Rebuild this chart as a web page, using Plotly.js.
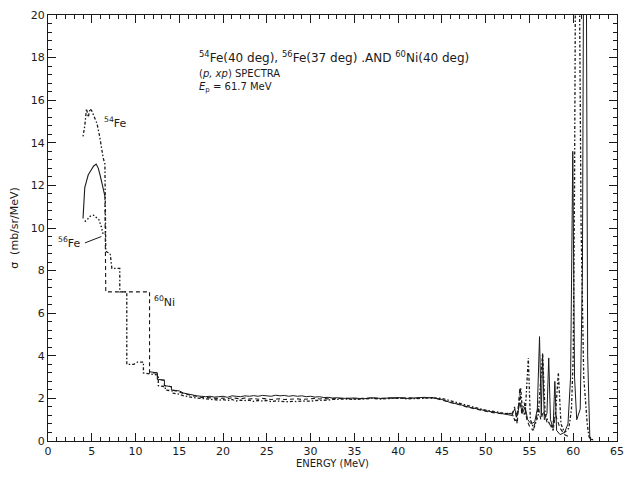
<!DOCTYPE html>
<html>
<head>
<meta charset="utf-8">
<script src="https://cdn.plot.ly/plotly-3.0.1.min.js"></script>
<style>html,body{margin:0;padding:0;background:#fff;}#chart{width:627px;height:481px;}</style>
</head>
<body>
<div id="chart"></div>
<script>
// ---- data ----
// shared energy grids for the continuum
const flatE = [15,15.5,16,16.5,17,17.5,18,18.5,19,19.5,20,20.5,21,21.5,22,22.5,23,23.5,24,24.5,25,25.5,26,26.5,27,27.5,28,28.5,29,29.5,30,30.5,31,31.5,32,32.5,33];
const tailE = [34,35,36,37,38,39,40,41,42,43,44,45,46,47,48,49,50,51,52];

// 54Fe (40 deg) - dotted
const fe54PeakE = [4.0,4.2,4.4,4.6,4.8,5.0,5.3,5.6,5.9,6.1,6.3,6.5];
const fe54PeakV = [14.3,14.8,15.6,15.2,15.6,15.5,15.2,14.9,14.3,13.7,13.3,13.0];
const fe54StepE = [6.6,7.1,7.3,8.2,8.2,9.0,9.0,9.8,10.2,10.9,10.9,11.6,12.6,12.6,13.4,13.4,14.2,14.2];
const fe54StepV = [8.9,8.8,8.1,8.1,7.0,7.0,3.6,3.6,3.7,3.7,3.2,3.15,3.1,2.6,2.55,2.4,2.35,2.25];
const fe54FlatV = [2.2,2.12,2.1,2.05,2.02,2.0,1.97,1.95,1.93,1.92,1.94,1.9,1.95,1.88,1.92,1.9,1.92,1.86,1.9,1.88,1.9,1.85,1.88,1.86,1.87,1.84,1.86,1.85,1.88,1.86,1.87,1.9,1.9,1.93,1.92,1.95,1.96];
const fe54TailV = [1.97,1.95,1.98,2.0,1.97,2.0,2.02,1.98,2.0,2.0,2.02,2.0,1.88,1.78,1.65,1.55,1.45,1.38,1.3];
const fe54HighE = [52.5,53.0,53.4,53.7,54.0,54.2,54.5,54.87,55.1,55.5,56.0,56.5,56.8,57.3,57.7,58.0,58.3,58.6,59.0,59.5,59.8,60.0,60.15,60.3,60.5,60.7,60.9,61.2,61.6,61.8,62.2];
const fe54HighV = [1.28,1.3,0.9,1.5,2.5,1.4,1.2,3.9,1.0,0.6,1.2,4.1,1.2,0.8,0.5,1.4,3.2,0.8,0.4,0.6,1.5,4.0,12,26,30,22,10,3.0,0.8,0.2,0.05];

// 56Fe (37 deg) - low-energy dotted arc, then solid
const fe56LowE = [4.2,4.5,4.8,5.2,5.5,5.8,6.1,6.3];
const fe56LowV = [10.3,10.4,10.55,10.6,10.5,10.4,10.05,9.7];
const fe56StepE = [11.6,12.5,12.5,13.3,13.3,14.1,14.1];
const fe56StepV = [3.25,3.2,2.9,2.85,2.6,2.55,2.4];
const fe56FlatV = [2.35,2.25,2.2,2.15,2.12,2.1,2.08,2.1,2.06,2.08,2.1,2.05,2.12,2.1,2.08,2.12,2.1,2.13,2.1,2.14,2.12,2.1,2.15,2.12,2.14,2.1,2.13,2.1,2.12,2.08,2.1,2.06,2.08,2.04,2.05,2.02,2.03];
const fe56TailV = [2.0,2.02,1.98,2.03,2.0,2.02,2.04,2.0,2.03,2.05,2.02,1.95,1.8,1.72,1.6,1.5,1.42,1.35,1.28];
const fe56HighE = [52.5,53.0,53.3,53.6,53.9,54.2,54.5,54.8,55.2,55.6,55.9,56.15,56.35,56.5,56.7,57.0,57.2,57.4,57.7,57.9,58.1,58.5,59.0,59.4,59.7,59.95,60.15,60.4,60.8,61.05,61.25,61.45,61.65,61.9,62.3];
const fe56HighV = [1.25,1.2,1.5,1.2,1.8,1.3,1.6,1.0,0.8,0.9,1.5,4.9,1.2,4.1,1.0,1.3,3.9,1.0,0.6,2.8,0.5,0.3,0.4,0.8,3.0,13.6,3.0,1.0,1.5,8,30,28,4,0.1,0.05];

// 60Ni (40 deg) - solid low-energy peak, then dashed
const ni60LowE = [4.0,4.2,4.4,4.6,4.9,5.2,5.5,5.75,6.0,6.2,6.5];
const ni60LowV = [10.45,11.9,12.2,12.5,12.7,12.9,13.0,12.8,12.4,12.0,11.5];
const ni60StepE = [6.5,6.6,11.6,11.6,12.5,12.5,13.3,13.3,14.1,14.1];
const ni60StepV = [11.5,7.0,7.0,3.2,3.2,2.9,2.85,2.6,2.55,2.4];
const ni60FlatV = [2.3,2.22,2.18,2.12,2.1,2.05,2.04,2.02,2.0,2.0,2.02,1.98,2.03,2.0,1.98,2.02,1.97,2.0,1.96,2.0,1.98,1.95,1.97,1.98,1.95,1.97,1.96,1.98,1.95,1.97,1.98,2.0,1.97,2.0,1.98,2.0,1.99];
const ni60TailV = [2.0,1.98,2.0,2.02,1.99,2.02,2.0,2.03,2.01,2.02,2.04,1.92,1.82,1.7,1.58,1.48,1.4,1.32,1.27];
const ni60HighE = [52.5,53.0,53.3,53.6,53.9,54.1,54.4,54.7,55.0,55.4,55.8,56.0,56.3,56.6,57.0,57.5,58.0,58.5,59.0,59.5];
const ni60HighV = [1.3,1.25,1.6,0.8,2.5,1.3,1.8,1.0,0.7,0.5,1.1,1.6,1.0,1.4,0.9,0.7,1.2,0.6,0.3,0.2];

// axis tick labels
const xTicks = [0,5,10,15,20,25,30,35,40,45,50,55,60,65];
const yTicks = [0,2,4,6,8,10,12,14,16,18,20];

// ---- build traces ----
const ink = '#1a1a1a';
function tr(x, y, dash, w) {
  return {x: x, y: y, type: 'scatter', mode: 'lines', hoverinfo: 'skip',
          line: {color: ink, width: w || 1.1, dash: dash}, showlegend: false};
}
const traces = [
  tr([].concat(fe54PeakE, fe54StepE, flatE, tailE, fe54HighE),
     [].concat(fe54PeakV, fe54StepV, fe54FlatV, fe54TailV, fe54HighV), '1.5px,2px,3px,2px', 1.3),
  tr(fe56LowE, fe56LowV, '1.5px,2px', 1.4),
  tr(ni60LowE, ni60LowV, 'solid', 1.1),
  tr([].concat(ni60StepE, flatE, tailE, ni60HighE),
     [].concat(ni60StepV, ni60FlatV, ni60TailV, ni60HighV), '4px,3px', 1.1),
  tr([].concat(fe56StepE, flatE, tailE, fe56HighE),
     [].concat(fe56StepV, fe56FlatV, fe56TailV, fe56HighV), 'solid', 1.0)
];

const font = 'DejaVu Sans, Liberation Sans, sans-serif';
const axisCommon = {
  showline: true, linecolor: ink, linewidth: 1, mirror: 'ticks',
  ticks: 'inside', tickcolor: ink, tickwidth: 1, ticklen: 8,
  showgrid: false, zeroline: false, fixedrange: true,
  tickfont: {family: font, size: 11, color: ink}
};
const layout = {
  width: 627, height: 481,
  margin: {l: 48, r: 10, t: 15, b: 40},
  paper_bgcolor: '#fff', plot_bgcolor: '#fff',
  xaxis: Object.assign({}, axisCommon, {
    range: [0, 65], tickmode: 'array', tickvals: xTicks, ticktext: xTicks.map(String),
    minor: {ticks: 'inside', ticklen: 4, tickcolor: ink, dtick: 1, tick0: 0, showgrid: false},
    title: {text: 'ENERGY (MeV)', font: {family: font, size: 10, color: ink}, standoff: 1}
  }),
  yaxis: Object.assign({}, axisCommon, {
    range: [0, 20], tickmode: 'array', tickvals: yTicks, ticktext: yTicks.map(String),
    minor: {ticks: 'inside', ticklen: 4, tickcolor: ink, dtick: 0.4, tick0: 0, showgrid: false},
    title: {text: 'σ  (mb/sr/MeV)', font: {family: font, size: 11, color: ink}, standoff: 9}
  }),
  annotations: [
    {xref: 'x', yref: 'y', x: 17, y: 18.05, xanchor: 'left', yanchor: 'middle', showarrow: false,
     text: '<sup>54</sup>Fe(40 deg), <sup>56</sup>Fe(37 deg) .AND <sup>60</sup>Ni(40 deg)',
     font: {family: font, size: 12, color: ink}},
    {xref: 'x', yref: 'y', x: 17, y: 17.25, xanchor: 'left', yanchor: 'middle', showarrow: false,
     text: '(<i>p, xp</i>) SPECTRA', font: {family: font, size: 10, color: ink}},
    {xref: 'x', yref: 'y', x: 17, y: 16.6, xanchor: 'left', yanchor: 'middle', showarrow: false,
     text: '<i>E</i><sub>p</sub> = 61.7 MeV', font: {family: font, size: 10, color: ink}},
    {xref: 'x', yref: 'y', x: 6.2, y: 14.95, xanchor: 'left', yanchor: 'middle', showarrow: false,
     text: '<sup>54</sup>Fe', font: {family: font, size: 11, color: ink}},
    {xref: 'x', yref: 'y', x: 6.1, y: 9.6, ax: -18, ay: 7, showarrow: true, arrowhead: 0,
     arrowwidth: 1, arrowcolor: ink, text: '', standoff: 0},
    {xref: 'x', yref: 'y', x: 0.9, y: 9.3, xanchor: 'left', yanchor: 'middle', showarrow: false,
     text: '<sup>56</sup>Fe', font: {family: font, size: 11, color: ink}},
    {xref: 'x', yref: 'y', x: 11.9, y: 6.55, xanchor: 'left', yanchor: 'middle', showarrow: false,
     text: '<sup>60</sup>Ni', font: {family: font, size: 11, color: ink}}
  ]
};
Plotly.newPlot('chart', traces, layout, {staticPlot: true, displayModeBar: false});
</script>
</body>
</html>
